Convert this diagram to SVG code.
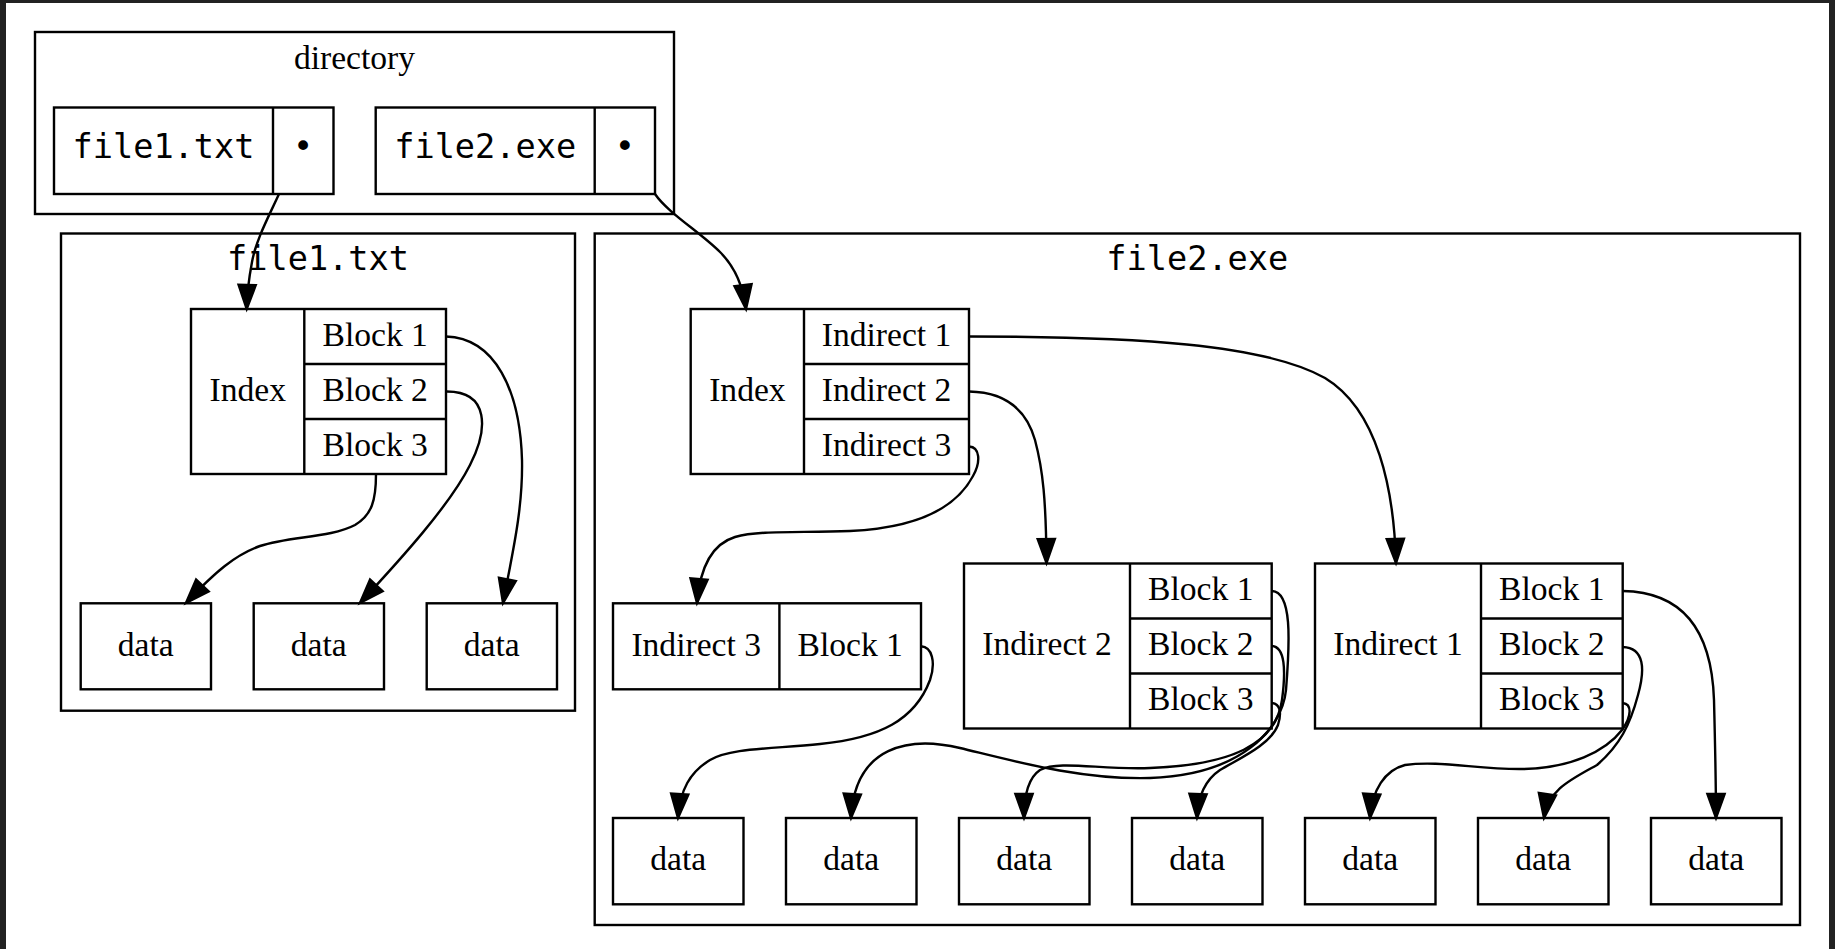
<svg xmlns="http://www.w3.org/2000/svg" width="1835" height="949" viewBox="0 0 1835 949">
<style>
.box{fill:none;stroke:#000;stroke-width:2.4}
.nd{fill:#fff;stroke:#000;stroke-width:2.4}
.sep{stroke:#000;stroke-width:2.4;fill:none}
.t{font-family:"Liberation Serif","Times New Roman",serif;font-size:33.6px;fill:#000;text-anchor:middle}
.m{font-family:"DejaVu Sans Mono","Liberation Mono",monospace;font-size:33.6px;fill:#000;text-anchor:middle}
.e{fill:none;stroke:#000;stroke-width:2.4;marker-end:url(#arr)}
</style>
<defs>
<marker id="arr" markerUnits="userSpaceOnUse" markerWidth="30" markerHeight="24" refX="24" refY="8.6" orient="auto" overflow="visible">
<path d="M0,0 L24,8.6 L0,17.2 Z" fill="#000" stroke="#000" stroke-width="2.4"/>
</marker>
</defs>
<rect x="0" y="0" width="1835" height="949" fill="#222"/>
<rect x="6" y="3" width="1823" height="946" fill="#fff"/>

<g id="cluster_directory">
<rect class="box" x="35" y="32" width="639" height="182"/>
<text class="t" x="354.5" y="69">directory</text>
</g>
<g id="cluster_file1">
<rect class="box" x="61" y="233.5" width="514" height="477.2"/>
<text class="m" x="318" y="269.5">file1.txt</text>
</g>
<g id="cluster_file2">
<rect class="box" x="594.7" y="233.5" width="1205.3" height="691.5"/>
<text class="m" x="1197.3" y="269.5">file2.exe</text>
</g>

<g id="dir_file1">
<rect class="nd" x="54" y="107.5" width="279.5" height="86.5"/>
<line class="sep" x1="273" y1="107.5" x2="273" y2="194"/>
<text class="m" x="163.5" y="158">file1.txt</text>
<text class="m" x="303.2" y="158">•</text>
</g>
<g id="dir_file2">
<rect class="nd" x="375.7" y="107.5" width="279.3" height="86.5"/>
<line class="sep" x1="594.7" y1="107.5" x2="594.7" y2="194"/>
<text class="m" x="485.2" y="158">file2.exe</text>
<text class="m" x="624.8" y="158">•</text>
</g>

<g id="f1_index">
<rect class="nd" x="191" y="309" width="255" height="165"/>
<path class="sep" d="M304.3,309 V474 M304.3,364 H446 M304.3,419 H446"/>
<text class="t" x="247.7" y="400.8">Index</text>
<text class="t" x="375.2" y="345.8">Block 1</text>
<text class="t" x="375.2" y="400.8">Block 2</text>
<text class="t" x="375.2" y="455.8">Block 3</text>
</g>
<g id="f1_data1"><rect class="nd" x="80.7" y="603.3" width="130.3" height="86"/><text class="t" x="145.8" y="655.6">data</text></g>
<g id="f1_data2"><rect class="nd" x="253.7" y="603.3" width="130.3" height="86"/><text class="t" x="318.8" y="655.6">data</text></g>
<g id="f1_data3"><rect class="nd" x="426.7" y="603.3" width="130.3" height="86"/><text class="t" x="491.8" y="655.6">data</text></g>

<g id="f2_index">
<rect class="nd" x="690.7" y="309" width="278.3" height="165"/>
<path class="sep" d="M804,309 V474 M804,364 H969 M804,419 H969"/>
<text class="t" x="747.4" y="400.8">Index</text>
<text class="t" x="886.5" y="345.8">Indirect 1</text>
<text class="t" x="886.5" y="400.8">Indirect 2</text>
<text class="t" x="886.5" y="455.8">Indirect 3</text>
</g>
<g id="f2_ind3">
<rect class="nd" x="613" y="603.3" width="308" height="86"/>
<line class="sep" x1="779.4" y1="603.3" x2="779.4" y2="689.3"/>
<text class="t" x="696.2" y="655.6">Indirect 3</text>
<text class="t" x="850.2" y="655.6">Block 1</text>
</g>
<g id="f2_ind2">
<rect class="nd" x="964" y="563.5" width="307.7" height="165"/>
<path class="sep" d="M1130,563.5 V728.5 M1130,618.5 H1271.7 M1130,673.5 H1271.7"/>
<text class="t" x="1047" y="655.3">Indirect 2</text>
<text class="t" x="1200.8" y="600.3">Block 1</text>
<text class="t" x="1200.8" y="655.3">Block 2</text>
<text class="t" x="1200.8" y="710.3">Block 3</text>
</g>
<g id="f2_ind1">
<rect class="nd" x="1315" y="563.5" width="307.7" height="165"/>
<path class="sep" d="M1481,563.5 V728.5 M1481,618.5 H1622.7 M1481,673.5 H1622.7"/>
<text class="t" x="1398" y="655.3">Indirect 1</text>
<text class="t" x="1551.8" y="600.3">Block 1</text>
<text class="t" x="1551.8" y="655.3">Block 2</text>
<text class="t" x="1551.8" y="710.3">Block 3</text>
</g>
<g id="f2_data1"><rect class="nd" x="613" y="818" width="130.5" height="86.3"/><text class="t" x="678.2" y="870">data</text></g>
<g id="f2_data2"><rect class="nd" x="786" y="818" width="130.5" height="86.3"/><text class="t" x="851.2" y="870">data</text></g>
<g id="f2_data3"><rect class="nd" x="959" y="818" width="130.5" height="86.3"/><text class="t" x="1024.2" y="870">data</text></g>
<g id="f2_data4"><rect class="nd" x="1132" y="818" width="130.5" height="86.3"/><text class="t" x="1197.2" y="870">data</text></g>
<g id="f2_data5"><rect class="nd" x="1305" y="818" width="130.5" height="86.3"/><text class="t" x="1370.2" y="870">data</text></g>
<g id="f2_data6"><rect class="nd" x="1478" y="818" width="130.5" height="86.3"/><text class="t" x="1543.2" y="870">data</text></g>
<g id="f2_data7"><rect class="nd" x="1651" y="818" width="130.5" height="86.3"/><text class="t" x="1716.2" y="870">data</text></g>

<g id="edges">
<path class="e" d="M279,194 C268,218 256,240 252,262 C249,278 247,293 246.7,309"/>
<path class="e" d="M655,194 C668,213 700,232 720,252 C735,267 743,285 746,309"/>
<path class="e" d="M446,336.5 C495,338 520,390 522,460 C523,510 512,555 503,603"/>
<path class="e" d="M446,391.5 C490,391 488,430 470,465 C450,505 400,560 360,603"/>
<path class="e" d="M376,474 C376,500 372,515 355,525 C330,538 290,536 260,546 C235,555 215,572 186,603"/>
<path class="e" d="M969,336.5 C1135,336.5 1265,344 1325,378 C1378,410 1394,490 1396,563"/>
<path class="e" d="M969,391.5 C1000,392 1025,405 1035,440 C1043,470 1046,500 1046.5,563"/>
<path class="e" d="M969,446.5 C980,447 981,462 973,476 C955,510 915,528 850,531 C800,533 760,530 735,537 C712,544 700,568 697,603"/>
<path class="e" d="M921,646.3 C932,647 936,662 930,680 C915,720 880,738 820,744 C770,749 730,748 710,760 C690,772 680,790 678,818"/>
<path class="e" d="M1272,591 C1292,592 1290,640 1286,690 C1282,730 1240,775 1150,778 C1080,780 1010,760 960,748 C910,736 855,745 851,818"/>
<path class="e" d="M1272,646 C1285,647 1286,670 1282,700 C1276,745 1230,765 1150,768 C1100,770 1060,760 1040,770 C1028,778 1024,795 1024,818"/>
<path class="e" d="M1272,703 C1280,704 1282,712 1278,725 C1270,745 1240,758 1220,770 C1205,780 1198,795 1197,818"/>
<path class="e" d="M1622.7,591 C1690,592 1712,640 1714,700 C1715,740 1716,780 1716,818"/>
<path class="e" d="M1622.7,647 C1645,648 1645,670 1638,695 C1630,725 1620,745 1597,765 C1570,780 1548,790 1544,818"/>
<path class="e" d="M1622.7,703 C1632,704 1632,716 1622,730 C1605,752 1570,768 1524,769 C1480,770 1440,760 1405,765 C1385,770 1372,790 1370,818"/>
</g>
</svg>
